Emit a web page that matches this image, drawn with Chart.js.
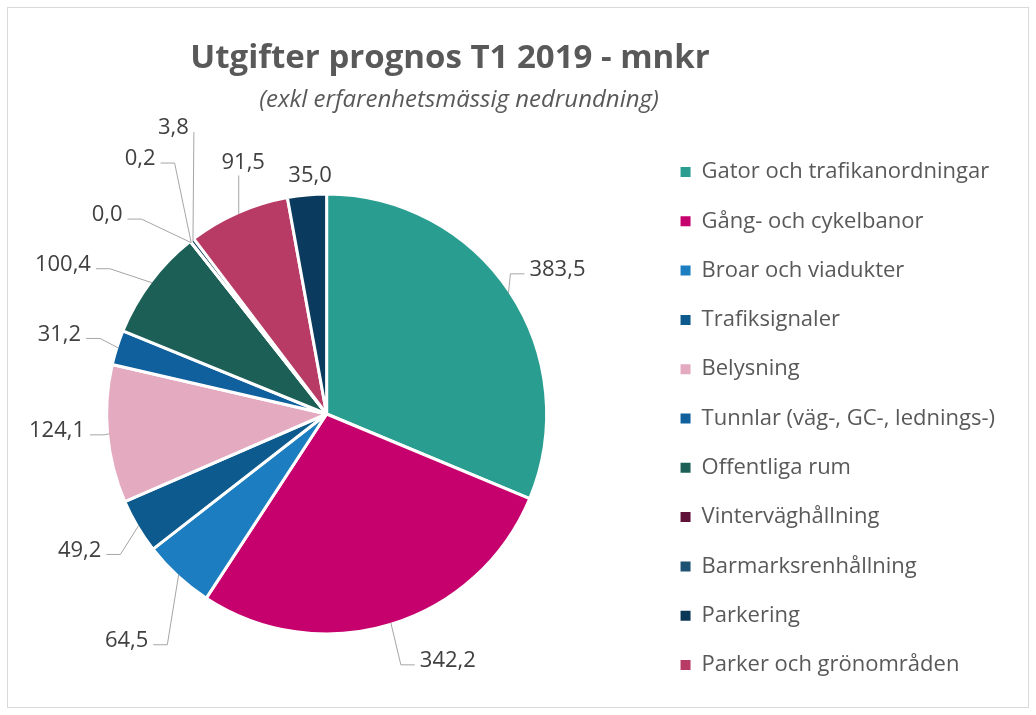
<!DOCTYPE html>
<html lang="sv">
<head>
<meta charset="utf-8">
<title>Utgifter prognos T1 2019 - mnkr</title>
<script src="https://cdn.jsdelivr.net/npm/chart.js@4.4.1/dist/chart.umd.min.js"></script>
<style>
  html, body { margin: 0; padding: 0; background: #ffffff; }
  canvas { display: block; }
</style>
</head>
<body>
<canvas id="chart" width="1036" height="715"></canvas>
<script>
// Expenditure forecast per activity area, MSEK
const categories = [
  'Gator och trafikanordningar',
  'Gång- och cykelbanor',
  'Broar och viadukter',
  'Trafiksignaler',
  'Belysning',
  'Tunnlar (väg-, GC-, lednings-)',
  'Offentliga rum',
  'Vinterväghållning',
  'Barmarksrenhållning',
  'Parkering',
  'Parker och grönområden',
  'Övrigt'
];
const values = [383.5, 342.2, 64.5, 49.2, 124.1, 31.2, 100.4, 0.0, 0.2, 3.8, 91.5, 35.0];
const sliceColors = [
  '#2A9D91', '#C6006C', '#1C7EC1', '#0D5A8E', '#E3AAC0', '#11609E',
  '#1B5F56', '#5E1238', '#1E5273', '#0B3756', '#B83B66', '#0A3A5E'
];
const legendCount = 11; // entries shown in the legend
const titleText = 'Utgifter prognos T1 2019 - mnkr';
const subtitleText = '(exkl erfarenhetsmässig nedrundning)';

// Where each value label sits relative to the outer edge of its slice (px)
const labelOffsets = [
  [49, -23], [57, 38], [-52, 66], [-59, 25], [-52, -3], [-59, -13.5],
  [-89, -18], [-84, -27.5], [-51, -83.5], [-19.5, -113], [4.5, -51.5], [3, -21]
];

const TEXT_GREY = '#595959';
const LABEL_GREY = '#404040';
const LINE_GREY = '#a6a6a6';
const BORDER_W = 3;

const formatValue = v => v.toFixed(1).replace('.', ',');

// Outer frame plus title and subtitle
const frameAndTitle = {
  id: 'frameAndTitle',
  beforeDraw(chart) {
    const ctx = chart.ctx;
    ctx.save();
    ctx.fillStyle = '#ffffff';
    ctx.fillRect(0, 0, chart.width, chart.height);
    ctx.strokeStyle = '#d9d9d9';
    ctx.lineWidth = 1;
    ctx.strokeRect(7.5, 7.5, chart.width - 15, chart.height - 15);
    ctx.fillStyle = TEXT_GREY;
    ctx.textAlign = 'center';
    ctx.textBaseline = 'alphabetic';
    ctx.font = "bold 33px 'Open Sans'";
    ctx.fillText(titleText, 450, 68);
    ctx.font = "italic 24px 'Open Sans'";
    ctx.fillText(subtitleText, 459, 107);
    ctx.restore();
  }
};

// Value labels outside the pie, joined to their slice by a thin leader line
const valueLabels = {
  id: 'valueLabels',
  afterDatasetsDraw(chart) {
    const ctx = chart.ctx;
    const meta = chart.getDatasetMeta(0);
    ctx.save();
    ctx.font = "22px 'Open Sans'";
    ctx.textAlign = 'center';
    ctx.textBaseline = 'middle';
    ctx.strokeStyle = LINE_GREY;
    ctx.lineWidth = 1;
    meta.data.forEach((arc, i) => {
      const p = arc.getProps(['x', 'y', 'startAngle', 'endAngle', 'outerRadius'], true);
      const mid = (p.startAngle + p.endAngle) / 2;
      const r = p.outerRadius - BORDER_W / 2;
      const ax = p.x + Math.cos(mid) * r;
      const ay = p.y + Math.sin(mid) * r;
      const lx = ax + labelOffsets[i][0];
      const ly = ay + labelOffsets[i][1];
      const text = formatValue(values[i]);
      const w = ctx.measureText(text).width;
      const left = lx - w / 2, right = lx + w / 2;
      const top = ly - 10, bottom = ly + 10;
      const nearDx = Math.max(left - ax, 0, ax - right);
      const nearDy = Math.max(top - ay, 0, ay - bottom);
      const gap = 5, elbow = 14;
      let pts = null;
      if (Math.hypot(nearDx, nearDy) > 14) {
        if (ax >= left && ax <= right) {
          pts = [[ax, ay], [ax, ay > bottom ? bottom + 3 : top - 3]];
        } else if (lx < ax) {
          const edge = right + gap;
          const ex = edge + Math.min(elbow, Math.max(0, ax - edge));
          pts = [[ax, ay], [ex, ly + 4], [edge, ly + 4]];
        } else {
          const edge = left - gap;
          const ex = edge - Math.min(elbow, Math.max(0, edge - ax));
          pts = [[ax, ay], [ex, ly + 4], [edge, ly + 4]];
        }
      }
      if (pts) {
        ctx.beginPath();
        ctx.moveTo(pts[0][0], pts[0][1]);
        for (let k = 1; k < pts.length; k++) ctx.lineTo(pts[k][0], pts[k][1]);
        ctx.stroke();
      }
      ctx.fillStyle = LABEL_GREY;
      ctx.fillText(text, lx, ly);
    });
    ctx.restore();
  }
};

new Chart(document.getElementById('chart'), {
  type: 'pie',
  data: {
    labels: categories,
    datasets: [{
      data: values,
      backgroundColor: sliceColors,
      borderColor: '#ffffff',
      borderWidth: BORDER_W,
      hoverOffset: 0,
      radius: 220
    }]
  },
  options: {
    responsive: false,
    animation: false,
    events: [],
    layout: { padding: { left: 0, right: 31, top: 113, bottom: 0 } },
    plugins: {
      title: { display: false },
      tooltip: { enabled: false },
      legend: {
        position: 'right',
        align: 'center',
        title: { display: true, text: '', padding: 0, font: { size: 7.5 } },
        labels: {
          boxWidth: 10,
          boxHeight: 10,
          padding: 27.3,
          color: TEXT_GREY,
          font: { family: "'Open Sans'", size: 22 },
          filter: item => item.index < legendCount,
          generateLabels(chart) {
            return Chart.overrides.pie.plugins.legend.labels.generateLabels(chart)
              .map(item => Object.assign(item, { lineWidth: 0 }));
          }
        }
      }
    }
  },
  plugins: [frameAndTitle, valueLabels]
});
</script>
</body>
</html>
